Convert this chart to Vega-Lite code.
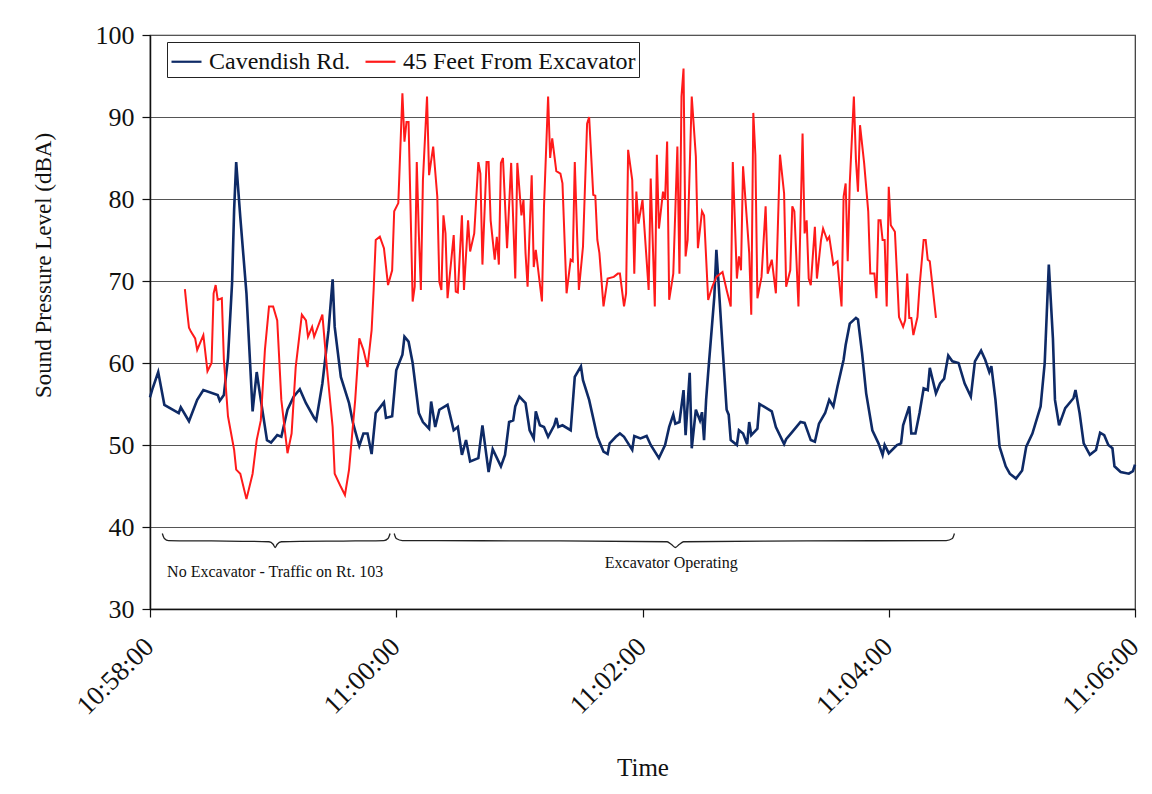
{
  "$schema": "https://vega.github.io/schema/vega-lite/v6.json",
  "width": 985,
  "height": 574,
  "autosize": "none",
  "padding": {"left": 150, "top": 35, "right": 17, "bottom": 185},
  "background": "white",
  "config": {
    "font": "Liberation Serif",
    "view": {"stroke": "#333", "strokeWidth": 1.2},
    "axis": {"labelFont": "Liberation Serif", "titleFont": "Liberation Serif", "labelColor": "#111", "titleColor": "#111", "titleFontWeight": "normal", "domainColor": "#111", "tickColor": "#111", "domainWidth": 1.5, "tickWidth": 1.2},
    "legend": {"labelFont": "Liberation Serif", "labelColor": "#111"}
  },
  "datasets": {
    "cavendish": [
      {"t":"10:58:00","v":55.8},{"t":"10:58:01","v":56.7},{"t":"10:58:04","v":58.9},{"t":"10:58:07","v":54.9},{"t":"10:58:14","v":53.9},{"t":"10:58:15","v":54.6},{"t":"10:58:19","v":52.9},{"t":"10:58:23","v":55.5},{"t":"10:58:26","v":56.7},{"t":"10:58:33","v":56.1},{"t":"10:58:34","v":55.4},{"t":"10:58:36","v":56.1},{"t":"10:58:38","v":60.6},{"t":"10:58:40","v":69.8},{"t":"10:58:41","v":78.7},{"t":"10:58:42","v":84.5},{"t":"10:58:44","v":77.8},{"t":"10:58:47","v":68.5},{"t":"10:58:50","v":54.1},{"t":"10:58:52","v":58.9},{"t":"10:58:54","v":55.5},{"t":"10:58:57","v":50.6},{"t":"10:58:59","v":50.3},
      {"t":"10:59:02","v":51.2},{"t":"10:59:04","v":51.0},{"t":"10:59:07","v":54.3},{"t":"10:59:10","v":55.9},{"t":"10:59:13","v":56.8},{"t":"10:59:16","v":55.1},{"t":"10:59:20","v":53.3},{"t":"10:59:21","v":53.0},{"t":"10:59:24","v":57.5},{"t":"10:59:27","v":64.0},{"t":"10:59:29","v":70.2},{"t":"10:59:30","v":64.4},{"t":"10:59:33","v":58.3},{"t":"10:59:37","v":55.1},{"t":"10:59:39","v":52.6},{"t":"10:59:42","v":49.9},{"t":"10:59:44","v":51.4},{"t":"10:59:46","v":51.4},{"t":"10:59:48","v":48.9},{"t":"10:59:50","v":53.9},{"t":"10:59:54","v":55.2},{"t":"10:59:55","v":53.3},{"t":"10:59:58","v":53.5},
      {"t":"11:00:00","v":59.1},{"t":"11:00:03","v":61.0},{"t":"11:00:04","v":63.2},{"t":"11:00:06","v":62.6},{"t":"11:00:08","v":60.0},{"t":"11:00:11","v":53.9},{"t":"11:00:13","v":52.8},{"t":"11:00:16","v":52.0},{"t":"11:00:17","v":55.3},{"t":"11:00:19","v":52.2},{"t":"11:00:21","v":54.3},{"t":"11:00:25","v":54.9},{"t":"11:00:28","v":51.8},{"t":"11:00:30","v":52.2},{"t":"11:00:32","v":48.8},{"t":"11:00:34","v":50.6},{"t":"11:00:36","v":48.0},{"t":"11:00:40","v":48.4},{"t":"11:00:42","v":52.4},{"t":"11:00:45","v":46.7},{"t":"11:00:47","v":49.5},{"t":"11:00:51","v":47.4},{"t":"11:00:53","v":48.8},{"t":"11:00:55","v":52.8},{"t":"11:00:57","v":53.0},{"t":"11:00:58","v":54.7},
      {"t":"11:01:00","v":55.9},{"t":"11:01:03","v":55.1},{"t":"11:01:05","v":51.8},{"t":"11:01:07","v":50.8},{"t":"11:01:08","v":54.1},{"t":"11:01:10","v":52.4},{"t":"11:01:12","v":52.2},{"t":"11:01:14","v":51.0},{"t":"11:01:17","v":52.4},{"t":"11:01:18","v":53.3},{"t":"11:01:19","v":52.2},{"t":"11:01:21","v":52.4},{"t":"11:01:25","v":51.8},{"t":"11:01:27","v":58.3},{"t":"11:01:30","v":59.6},{"t":"11:01:31","v":57.9},{"t":"11:01:34","v":55.5},{"t":"11:01:38","v":51.0},{"t":"11:01:41","v":49.2},{"t":"11:01:43","v":48.9},{"t":"11:01:44","v":50.2},{"t":"11:01:47","v":51.0},{"t":"11:01:49","v":51.4},{"t":"11:01:51","v":51.0},{"t":"11:01:55","v":49.4},{"t":"11:01:56","v":51.1},{"t":"11:01:59","v":50.8},
      {"t":"11:02:02","v":51.1},{"t":"11:02:04","v":50.0},{"t":"11:02:08","v":48.4},{"t":"11:02:11","v":50.0},{"t":"11:02:13","v":52.2},{"t":"11:02:15","v":53.7},{"t":"11:02:16","v":52.6},{"t":"11:02:18","v":52.8},{"t":"11:02:20","v":56.7},{"t":"11:02:21","v":51.2},{"t":"11:02:23","v":58.8},{"t":"11:02:24","v":49.6},{"t":"11:02:26","v":54.3},{"t":"11:02:28","v":53.0},{"t":"11:02:29","v":54.0},{"t":"11:02:30","v":50.6},{"t":"11:02:31","v":55.5},{"t":"11:02:32","v":58.8},{"t":"11:02:35","v":68.1},{"t":"11:02:36","v":73.8},{"t":"11:02:37","v":70.0},{"t":"11:02:39","v":62.0},{"t":"11:02:41","v":54.3},{"t":"11:02:42","v":53.7},{"t":"11:02:43","v":50.6},{"t":"11:02:46","v":50.0},{"t":"11:02:47","v":51.8},{"t":"11:02:49","v":51.4},{"t":"11:02:51","v":50.1},{"t":"11:02:52","v":52.8},{"t":"11:02:53","v":51.2},{"t":"11:02:56","v":52.0},{"t":"11:02:57","v":55.0},{"t":"11:02:59","v":54.7},
      {"t":"11:03:03","v":54.1},{"t":"11:03:05","v":52.2},{"t":"11:03:09","v":50.1},{"t":"11:03:10","v":50.7},{"t":"11:03:13","v":51.6},{"t":"11:03:17","v":52.8},{"t":"11:03:19","v":52.7},{"t":"11:03:22","v":50.6},{"t":"11:03:24","v":50.4},{"t":"11:03:26","v":52.6},{"t":"11:03:29","v":53.9},{"t":"11:03:31","v":55.5},{"t":"11:03:33","v":54.7},{"t":"11:03:35","v":57.1},{"t":"11:03:38","v":60.4},{"t":"11:03:39","v":62.2},{"t":"11:03:41","v":64.8},{"t":"11:03:44","v":65.5},{"t":"11:03:45","v":65.3},{"t":"11:03:47","v":61.2},{"t":"11:03:49","v":56.3},{"t":"11:03:52","v":51.8},{"t":"11:03:55","v":50.2},{"t":"11:03:57","v":48.8},{"t":"11:03:58","v":50.0},
      {"t":"11:04:00","v":49.0},{"t":"11:04:04","v":50.0},{"t":"11:04:06","v":50.2},{"t":"11:04:07","v":52.4},{"t":"11:04:10","v":54.7},{"t":"11:04:11","v":51.4},{"t":"11:04:13","v":51.4},{"t":"11:04:15","v":53.9},{"t":"11:04:17","v":56.9},{"t":"11:04:19","v":56.7},{"t":"11:04:20","v":59.4},{"t":"11:04:23","v":56.3},{"t":"11:04:25","v":57.5},{"t":"11:04:27","v":58.1},{"t":"11:04:29","v":60.9},{"t":"11:04:31","v":60.2},{"t":"11:04:34","v":60.0},{"t":"11:04:37","v":57.5},{"t":"11:04:40","v":55.9},{"t":"11:04:42","v":60.2},{"t":"11:04:45","v":61.5},{"t":"11:04:47","v":60.4},{"t":"11:04:49","v":58.9},{"t":"11:04:50","v":59.6},{"t":"11:04:52","v":55.5},{"t":"11:04:54","v":49.8},{"t":"11:04:57","v":47.4},{"t":"11:04:59","v":46.5},
      {"t":"11:05:02","v":45.9},{"t":"11:05:05","v":46.9},{"t":"11:05:07","v":49.8},{"t":"11:05:10","v":51.4},{"t":"11:05:14","v":54.7},{"t":"11:05:16","v":60.0},{"t":"11:05:17","v":66.0},{"t":"11:05:18","v":72.0},{"t":"11:05:20","v":63.0},{"t":"11:05:21","v":55.5},{"t":"11:05:23","v":52.4},{"t":"11:05:26","v":54.5},{"t":"11:05:30","v":55.7},{"t":"11:05:31","v":56.7},{"t":"11:05:33","v":53.9},{"t":"11:05:35","v":50.2},{"t":"11:05:38","v":48.8},{"t":"11:05:41","v":49.4},{"t":"11:05:43","v":51.5},{"t":"11:05:45","v":51.2},{"t":"11:05:47","v":50.0},{"t":"11:05:49","v":49.6},{"t":"11:05:50","v":47.4},{"t":"11:05:53","v":46.7},{"t":"11:05:57","v":46.5},{"t":"11:05:59","v":46.8},{"t":"11:06:00","v":47.6}
    ],
    "excavator": [
      {"t":"10:58:17","v":69.0},{"t":"10:58:18","v":66.5},{"t":"10:58:19","v":64.3},{"t":"10:58:20","v":63.8},{"t":"10:58:22","v":63.0},{"t":"10:58:23","v":61.6},{"t":"10:58:26","v":63.4},{"t":"10:58:28","v":59.0},{"t":"10:58:30","v":60.0},{"t":"10:58:31","v":68.5},{"t":"10:58:32","v":69.5},{"t":"10:58:33","v":67.7},{"t":"10:58:35","v":67.9},{"t":"10:58:36","v":60.4},{"t":"10:58:38","v":53.5},{"t":"10:58:41","v":49.4},{"t":"10:58:42","v":47.0},{"t":"10:58:44","v":46.5},{"t":"10:58:47","v":43.4},{"t":"10:58:50","v":46.5},{"t":"10:58:52","v":50.6},{"t":"10:58:54","v":53.0},{"t":"10:58:56","v":61.6},{"t":"10:58:58","v":66.9},
      {"t":"10:59:00","v":66.9},{"t":"10:59:02","v":65.2},{"t":"10:59:04","v":55.5},{"t":"10:59:07","v":49.0},{"t":"10:59:09","v":51.4},{"t":"10:59:11","v":59.5},{"t":"10:59:14","v":65.9},{"t":"10:59:16","v":65.2},{"t":"10:59:17","v":63.2},{"t":"10:59:19","v":64.4},{"t":"10:59:20","v":63.2},{"t":"10:59:24","v":65.9},{"t":"10:59:26","v":60.0},{"t":"10:59:29","v":52.2},{"t":"10:59:30","v":46.5},{"t":"10:59:33","v":44.9},{"t":"10:59:35","v":43.9},{"t":"10:59:37","v":47.0},{"t":"10:59:40","v":55.5},{"t":"10:59:42","v":63.0},{"t":"10:59:44","v":61.6},{"t":"10:59:46","v":59.5},{"t":"10:59:48","v":64.0},{"t":"10:59:49","v":69.0},{"t":"10:59:50","v":75.0},{"t":"10:59:52","v":75.4},{"t":"10:59:54","v":74.0},{"t":"10:59:56","v":69.5},{"t":"10:59:58","v":71.3},{"t":"10:59:59","v":78.5},
      {"t":"11:00:01","v":79.5},{"t":"11:00:03","v":92.9},{"t":"11:00:04","v":87.0},{"t":"11:00:05","v":89.4},{"t":"11:00:06","v":89.4},{"t":"11:00:08","v":67.5},{"t":"11:00:09","v":69.3},{"t":"11:00:10","v":84.5},{"t":"11:00:11","v":75.8},{"t":"11:00:12","v":68.9},{"t":"11:00:13","v":82.3},{"t":"11:00:15","v":92.5},{"t":"11:00:16","v":82.9},{"t":"11:00:18","v":86.4},{"t":"11:00:20","v":80.3},{"t":"11:00:21","v":69.9},{"t":"11:00:22","v":68.9},{"t":"11:00:23","v":78.0},{"t":"11:00:24","v":75.8},{"t":"11:00:25","v":67.9},{"t":"11:00:28","v":75.6},{"t":"11:00:29","v":68.7},{"t":"11:00:30","v":68.6},{"t":"11:00:32","v":78.0},{"t":"11:00:33","v":68.9},{"t":"11:00:35","v":77.4},{"t":"11:00:36","v":73.6},{"t":"11:00:38","v":75.8},{"t":"11:00:40","v":84.5},{"t":"11:00:41","v":83.1},{"t":"11:00:42","v":72.0},{"t":"11:00:44","v":84.5},{"t":"11:00:45","v":84.5},{"t":"11:00:46","v":77.4},{"t":"11:00:48","v":72.6},{"t":"11:00:49","v":75.4},{"t":"11:00:50","v":72.0},{"t":"11:00:51","v":84.4},{"t":"11:00:52","v":85.0},{"t":"11:00:54","v":74.0},{"t":"11:00:56","v":84.4},{"t":"11:00:58","v":70.3},{"t":"11:00:59","v":84.4},
      {"t":"11:01:01","v":78.0},{"t":"11:01:02","v":79.9},{"t":"11:01:03","v":73.4},{"t":"11:01:04","v":69.3},{"t":"11:01:06","v":82.9},{"t":"11:01:07","v":71.7},{"t":"11:01:08","v":73.8},{"t":"11:01:11","v":67.5},{"t":"11:01:12","v":79.1},{"t":"11:01:14","v":92.5},{"t":"11:01:15","v":85.0},{"t":"11:01:16","v":87.4},{"t":"11:01:18","v":83.4},{"t":"11:01:20","v":83.1},{"t":"11:01:21","v":81.9},{"t":"11:01:23","v":68.5},{"t":"11:01:25","v":72.6},{"t":"11:01:26","v":72.4},{"t":"11:01:27","v":84.5},{"t":"11:01:29","v":68.9},{"t":"11:01:31","v":74.2},{"t":"11:01:33","v":89.2},{"t":"11:01:34","v":90.0},{"t":"11:01:36","v":80.5},{"t":"11:01:37","v":80.4},{"t":"11:01:38","v":75.0},{"t":"11:01:39","v":73.4},{"t":"11:01:41","v":66.9},{"t":"11:01:43","v":70.3},{"t":"11:01:46","v":70.5},{"t":"11:01:48","v":70.9},{"t":"11:01:49","v":70.9},{"t":"11:01:51","v":66.9},{"t":"11:01:52","v":68.5},{"t":"11:01:53","v":86.0},{"t":"11:01:55","v":82.3},{"t":"11:01:56","v":70.9},{"t":"11:01:57","v":80.9},{"t":"11:01:58","v":77.0},
      {"t":"11:02:00","v":79.9},{"t":"11:02:03","v":68.9},{"t":"11:02:04","v":82.5},{"t":"11:02:06","v":66.9},{"t":"11:02:07","v":85.4},{"t":"11:02:08","v":76.4},{"t":"11:02:10","v":80.9},{"t":"11:02:11","v":79.9},{"t":"11:02:12","v":87.0},{"t":"11:02:13","v":67.7},{"t":"11:02:15","v":70.9},{"t":"11:02:17","v":86.4},{"t":"11:02:18","v":70.9},{"t":"11:02:19","v":92.5},{"t":"11:02:20","v":95.9},{"t":"11:02:21","v":73.0},{"t":"11:02:22","v":75.0},{"t":"11:02:24","v":92.5},{"t":"11:02:26","v":85.2},{"t":"11:02:27","v":74.0},{"t":"11:02:29","v":78.5},{"t":"11:02:30","v":78.0},{"t":"11:02:32","v":67.7},{"t":"11:02:34","v":69.3},{"t":"11:02:36","v":70.5},{"t":"11:02:39","v":71.1},{"t":"11:02:41","v":68.9},{"t":"11:02:43","v":66.9},{"t":"11:02:44","v":84.5},{"t":"11:02:46","v":70.3},{"t":"11:02:47","v":73.0},{"t":"11:02:48","v":71.3},{"t":"11:02:49","v":84.0},{"t":"11:02:51","v":77.0},{"t":"11:02:52","v":73.4},{"t":"11:02:53","v":65.9},{"t":"11:02:54","v":90.5},{"t":"11:02:55","v":85.4},{"t":"11:02:56","v":67.9},{"t":"11:02:58","v":70.5},
      {"t":"11:03:00","v":79.1},{"t":"11:03:01","v":70.9},{"t":"11:03:03","v":72.6},{"t":"11:03:05","v":68.5},{"t":"11:03:07","v":85.4},{"t":"11:03:09","v":80.7},{"t":"11:03:10","v":69.3},{"t":"11:03:12","v":71.3},{"t":"11:03:13","v":79.1},{"t":"11:03:14","v":78.5},{"t":"11:03:16","v":66.9},{"t":"11:03:18","v":88.0},{"t":"11:03:19","v":75.8},{"t":"11:03:20","v":77.4},{"t":"11:03:21","v":70.3},{"t":"11:03:22","v":69.5},{"t":"11:03:24","v":76.6},{"t":"11:03:25","v":70.3},{"t":"11:03:27","v":75.0},{"t":"11:03:28","v":76.4},{"t":"11:03:30","v":75.0},{"t":"11:03:31","v":75.4},{"t":"11:03:33","v":72.0},{"t":"11:03:35","v":72.4},{"t":"11:03:37","v":66.9},{"t":"11:03:38","v":80.3},{"t":"11:03:39","v":81.9},{"t":"11:03:40","v":72.4},{"t":"11:03:41","v":81.9},{"t":"11:03:43","v":92.5},{"t":"11:03:44","v":84.8},{"t":"11:03:45","v":80.9},{"t":"11:03:46","v":89.0},{"t":"11:03:48","v":84.4},{"t":"11:03:50","v":78.5},{"t":"11:03:51","v":70.9},{"t":"11:03:53","v":70.9},{"t":"11:03:54","v":67.9},{"t":"11:03:55","v":77.4},{"t":"11:03:56","v":77.4},{"t":"11:03:57","v":75.0},{"t":"11:03:58","v":75.0},{"t":"11:03:59","v":66.9},
      {"t":"11:04:00","v":81.5},{"t":"11:04:01","v":76.8},{"t":"11:04:03","v":76.0},{"t":"11:04:04","v":70.9},{"t":"11:04:05","v":65.6},{"t":"11:04:07","v":64.4},{"t":"11:04:08","v":65.2},{"t":"11:04:09","v":70.9},{"t":"11:04:10","v":65.5},{"t":"11:04:11","v":65.5},{"t":"11:04:12","v":63.4},{"t":"11:04:14","v":65.6},{"t":"11:04:15","v":69.3},{"t":"11:04:17","v":75.0},{"t":"11:04:18","v":75.0},{"t":"11:04:19","v":72.6},{"t":"11:04:20","v":72.4},{"t":"11:04:23","v":65.5}
    ],
    "braces": [
      {"b":"left","t":"10:58:06","v":39.2},{"b":"left","t":"10:58:07","v":38.6},{"b":"left","t":"10:58:09","v":38.35},{"b":"left","t":"10:58:30","v":38.3},{"b":"left","t":"10:58:58","v":38.2},{"b":"left","t":"10:59:00","v":37.9},{"b":"left","t":"10:59:01","v":37.5},{"b":"left","t":"10:59:02","v":37.9},{"b":"left","t":"10:59:04","v":38.2},{"b":"left","t":"10:59:40","v":38.3},{"b":"left","t":"10:59:54","v":38.35},{"b":"left","t":"10:59:56","v":38.6},{"b":"left","t":"10:59:57","v":39.2},
      {"b":"right","t":"10:59:59","v":39.2},{"b":"right","t":"11:00:00","v":38.6},{"b":"right","t":"11:00:03","v":38.35},{"b":"right","t":"11:01:20","v":38.3},{"b":"right","t":"11:02:12","v":38.2},{"b":"right","t":"11:02:14","v":37.9},{"b":"right","t":"11:02:16","v":37.5},{"b":"right","t":"11:02:18","v":37.9},{"b":"right","t":"11:02:20","v":38.2},{"b":"right","t":"11:03:20","v":38.3},{"b":"right","t":"11:04:28","v":38.35},{"b":"right","t":"11:04:31","v":38.6},{"b":"right","t":"11:04:32","v":39.2}
    ],
    "notes": [
      {"t":"10:59:01","v":34.5,"label":"No Excavator - Traffic on Rt. 103"},
      {"t":"11:02:14","v":35.6,"label":"Excavator Operating"}
    ]
  },
  "encoding": {
    "x": {
      "field": "t", "type": "temporal",
      "scale": {"type": "utc", "domain": [{"year": 1900, "month": 1, "date": 1, "hours": 10, "minutes": 58, "utc": true}, {"year": 1900, "month": 1, "date": 1, "hours": 11, "minutes": 6, "utc": true}]},
      "axis": {
        "title": "Time",
        "format": "%H:%M:%S",
        "values": [
          {"year": 1900, "month": 1, "date": 1, "hours": 10, "minutes": 58, "utc": true},
          {"year": 1900, "month": 1, "date": 1, "hours": 11, "minutes": 0, "utc": true},
          {"year": 1900, "month": 1, "date": 1, "hours": 11, "minutes": 2, "utc": true},
          {"year": 1900, "month": 1, "date": 1, "hours": 11, "minutes": 4, "utc": true},
          {"year": 1900, "month": 1, "date": 1, "hours": 11, "minutes": 6, "utc": true}
        ],
        "grid": false, "labelAngle": -45, "labelFontSize": 27, "tickSize": 8, "labelPadding": 16, "labelOffset": -10,
        "titleFontSize": 25, "titlePadding": 36, "labelOverlap": false
      }
    },
    "y": {
      "field": "v", "type": "quantitative",
      "scale": {"domain": [30, 100], "nice": false, "zero": false},
      "axis": {
        "title": "Sound Pressure Level (dBA)",
        "values": [30, 40, 50, 60, 70, 80, 90, 100],
        "grid": true, "gridColor": "#555", "gridWidth": 1,
        "labelFontSize": 26, "tickSize": 8, "labelPadding": 8,
        "titleFontSize": 23, "titlePadding": 40, "titleY": 230
      }
    }
  },
  "layer": [
    {
      "data": {"name": "cavendish", "format": {"parse": {"t": "utc:'%H:%M:%S'"}}},
      "mark": {"type": "line", "strokeWidth": 2.6},
      "encoding": {
        "color": {
          "datum": "Cavendish Rd.", "type": "nominal",
          "scale": {"domain": ["Cavendish Rd.", "45 Feet From Excavator"], "range": ["#0e2a66", "#ff1a1a"]},
          "legend": {
            "orient": "none", "legendX": 17, "legendY": 7, "direction": "horizontal", "title": null,
            "symbolType": "stroke", "symbolSize": 900, "symbolStrokeWidth": 2.2,
            "labelFont": "Liberation Serif", "labelFontSize": 24, "labelOffset": 6, "columnPadding": 10, "labelLimit": 500,
            "strokeColor": "#222", "fillColor": "white", "padding": 3
          }
        }
      }
    },
    {
      "data": {"name": "excavator", "format": {"parse": {"t": "utc:'%H:%M:%S'"}}},
      "mark": {"type": "line", "strokeWidth": 2},
      "encoding": {
        "color": {"datum": "45 Feet From Excavator", "type": "nominal"}
      }
    },
    {
      "data": {"name": "braces", "format": {"parse": {"t": "utc:'%H:%M:%S'"}}},
      "mark": {"type": "line", "interpolate": "monotone", "color": "#222", "strokeWidth": 1.3},
      "encoding": {"detail": {"field": "b", "type": "nominal"}}
    },
    {
      "data": {"name": "notes", "format": {"parse": {"t": "utc:'%H:%M:%S'"}}},
      "mark": {"type": "text", "font": "Liberation Serif", "fontSize": 16, "color": "#111", "align": "center", "baseline": "middle"},
      "encoding": {"text": {"field": "label", "type": "nominal"}}
    }
  ]
}
